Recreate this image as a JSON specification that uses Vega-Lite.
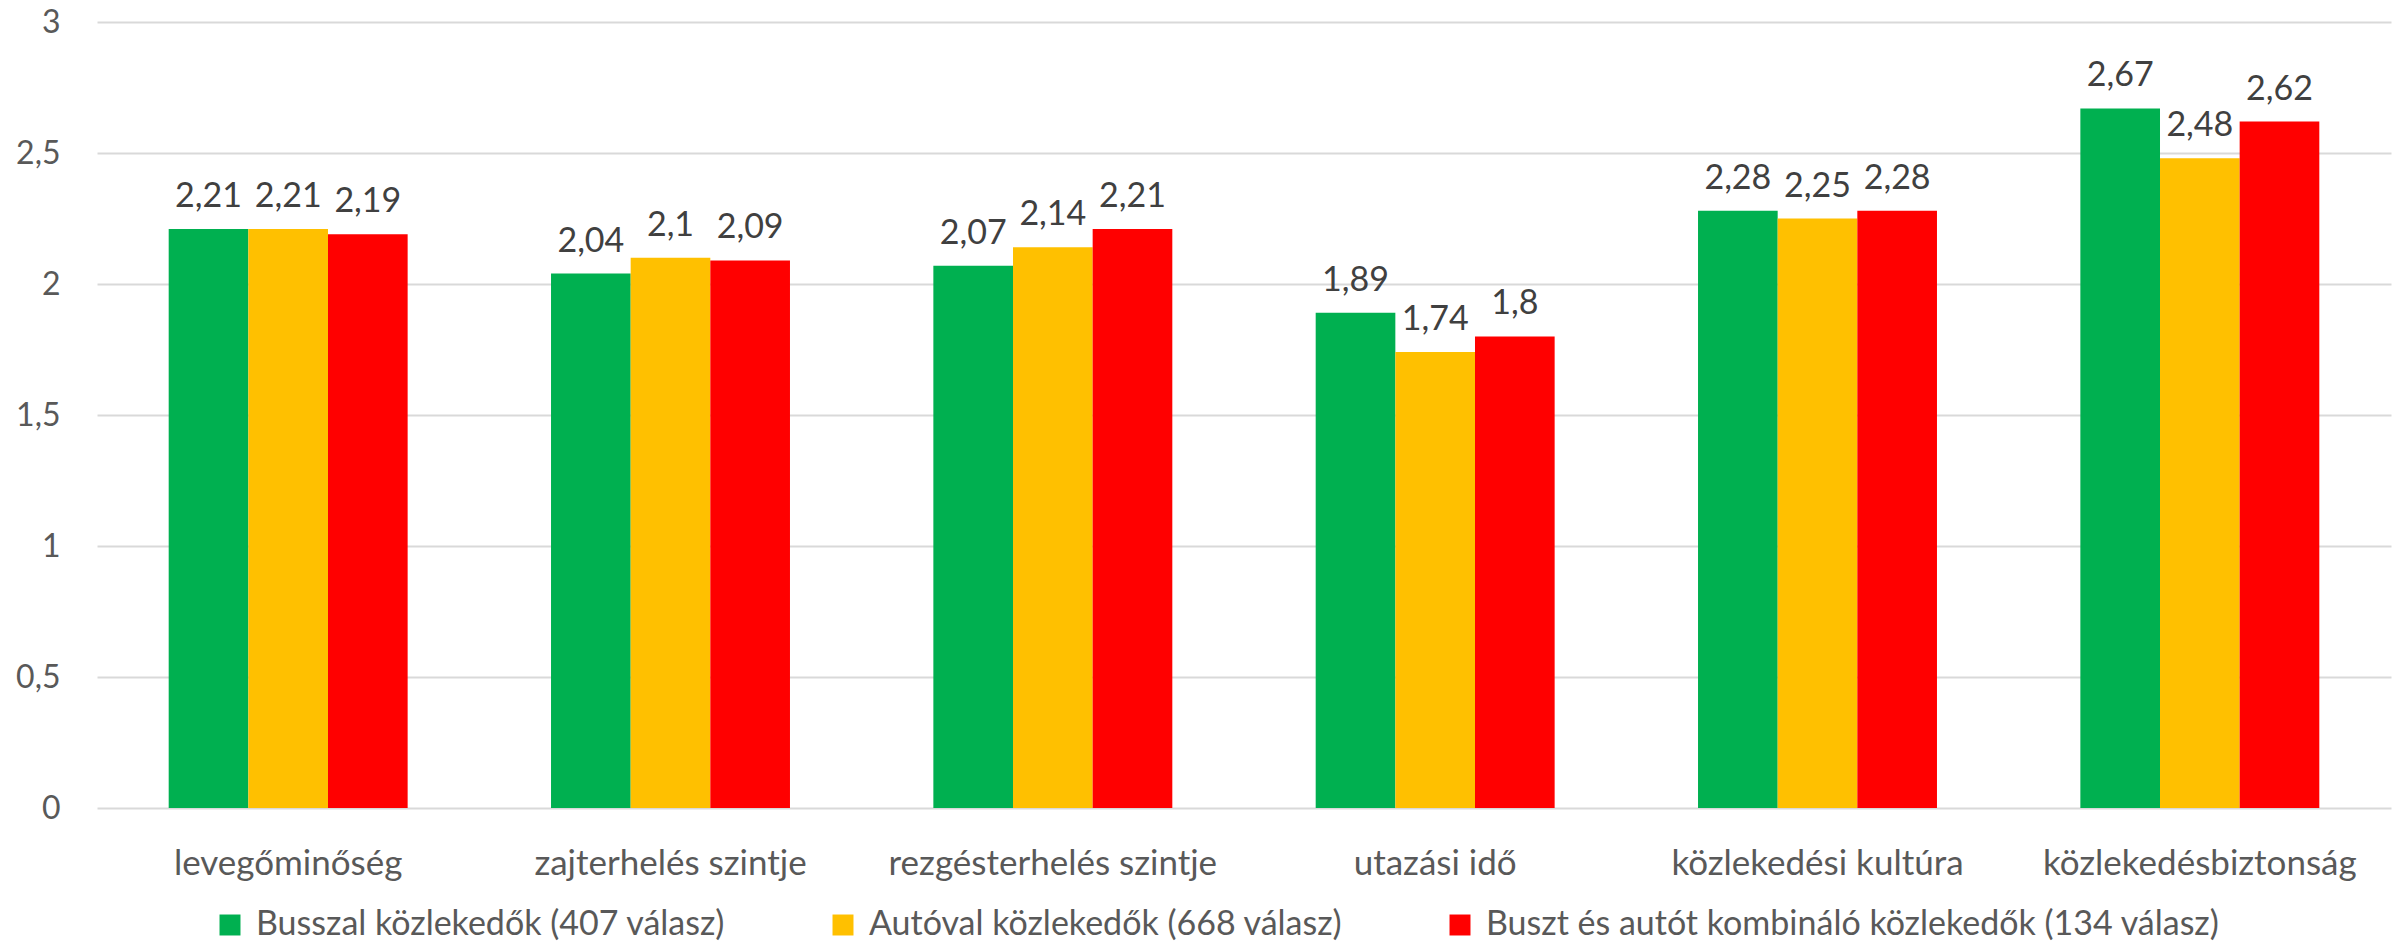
{
  "$schema": "https://vega.github.io/schema/vega-lite/v6.json",
  "width": 2294,
  "height": 786,
  "autosize": {"type": "none"},
  "padding": {"left": 97, "top": 22, "right": 11, "bottom": 135},
  "background": "white",
  "config": {
    "locale": {"number": {"decimal": ",", "thousands": " ", "grouping": [3], "currency": ["", " Ft"]}},
    "font": "Lato",
    "view": {"stroke": null},
    "axis": {"labelFont": "Lato", "labelColor": "#595959", "labelFontSize": 32, "ticks": false, "domain": false, "title": null}
  },
  "data": {
    "values": [
      {"cat": "levegőminőség", "series": "Busszal közlekedők (407 válasz)", "value": 2.21},
      {"cat": "levegőminőség", "series": "Autóval közlekedők (668 válasz)", "value": 2.21},
      {"cat": "levegőminőség", "series": "Buszt és autót kombináló közlekedők (134 válasz)", "value": 2.19},
      {"cat": "zajterhelés szintje", "series": "Busszal közlekedők (407 válasz)", "value": 2.04},
      {"cat": "zajterhelés szintje", "series": "Autóval közlekedők (668 válasz)", "value": 2.1},
      {"cat": "zajterhelés szintje", "series": "Buszt és autót kombináló közlekedők (134 válasz)", "value": 2.09},
      {"cat": "rezgésterhelés szintje", "series": "Busszal közlekedők (407 válasz)", "value": 2.07},
      {"cat": "rezgésterhelés szintje", "series": "Autóval közlekedők (668 válasz)", "value": 2.14},
      {"cat": "rezgésterhelés szintje", "series": "Buszt és autót kombináló közlekedők (134 válasz)", "value": 2.21},
      {"cat": "utazási idő", "series": "Busszal közlekedők (407 válasz)", "value": 1.89},
      {"cat": "utazási idő", "series": "Autóval közlekedők (668 válasz)", "value": 1.74},
      {"cat": "utazási idő", "series": "Buszt és autót kombináló közlekedők (134 válasz)", "value": 1.8},
      {"cat": "közlekedési kultúra", "series": "Busszal közlekedők (407 válasz)", "value": 2.28},
      {"cat": "közlekedési kultúra", "series": "Autóval közlekedők (668 válasz)", "value": 2.25},
      {"cat": "közlekedési kultúra", "series": "Buszt és autót kombináló közlekedők (134 válasz)", "value": 2.28},
      {"cat": "közlekedésbiztonság", "series": "Busszal közlekedők (407 válasz)", "value": 2.67},
      {"cat": "közlekedésbiztonság", "series": "Autóval közlekedők (668 válasz)", "value": 2.48},
      {"cat": "közlekedésbiztonság", "series": "Buszt és autót kombináló közlekedők (134 válasz)", "value": 2.62}
    ]
  },
  "encoding": {
    "x": {
      "field": "cat", "type": "nominal", "sort": null,
      "scale": {"paddingInner": 0.375, "paddingOuter": 0.1875},
      "axis": {"labelAngle": 0, "labelPadding": 38, "labelFontSize": 35, "labelLimit": 1000, "grid": false}
    },
    "xOffset": {
      "field": "series", "type": "nominal",
      "scale": {"domain": ["Busszal közlekedők (407 válasz)", "Autóval közlekedők (668 válasz)", "Buszt és autót kombináló közlekedők (134 válasz)"], "paddingInner": 0, "paddingOuter": 0}
    },
    "y": {
      "field": "value", "type": "quantitative",
      "scale": {"domain": [0, 3], "nice": false},
      "axis": {"values": [0, 0.5, 1, 1.5, 2, 2.5, 3], "format": "~g", "labelPadding": 37, "grid": true, "gridColor": "#D9D9D9", "gridWidth": 2}
    }
  },
  "layer": [
    {
      "mark": {"type": "bar"},
      "encoding": {
        "color": {
          "field": "series", "type": "nominal",
          "scale": {"domain": ["Busszal közlekedők (407 válasz)", "Autóval közlekedők (668 válasz)", "Buszt és autót kombináló közlekedők (134 válasz)"], "range": ["#00B050", "#FFC000", "#FF0000"]},
          "legend": {
            "orient": "none", "legendX": 116, "legendY": 886, "direction": "horizontal", "columns": 3,
            "title": null, "symbolType": "square", "symbolSize": 440, "symbolStrokeWidth": 0,
            "labelFont": "Lato", "labelFontSize": 34, "labelColor": "#595959", "labelLimit": 1000,
            "columnPadding": 100, "labelOffset": 9
          }
        }
      }
    },
    {
      "mark": {"type": "text", "baseline": "alphabetic", "dy": -22, "fontSize": 34, "font": "Lato", "color": "#404040"},
      "encoding": {
        "text": {"field": "value", "type": "quantitative", "format": "~g"}
      }
    }
  ]
}
